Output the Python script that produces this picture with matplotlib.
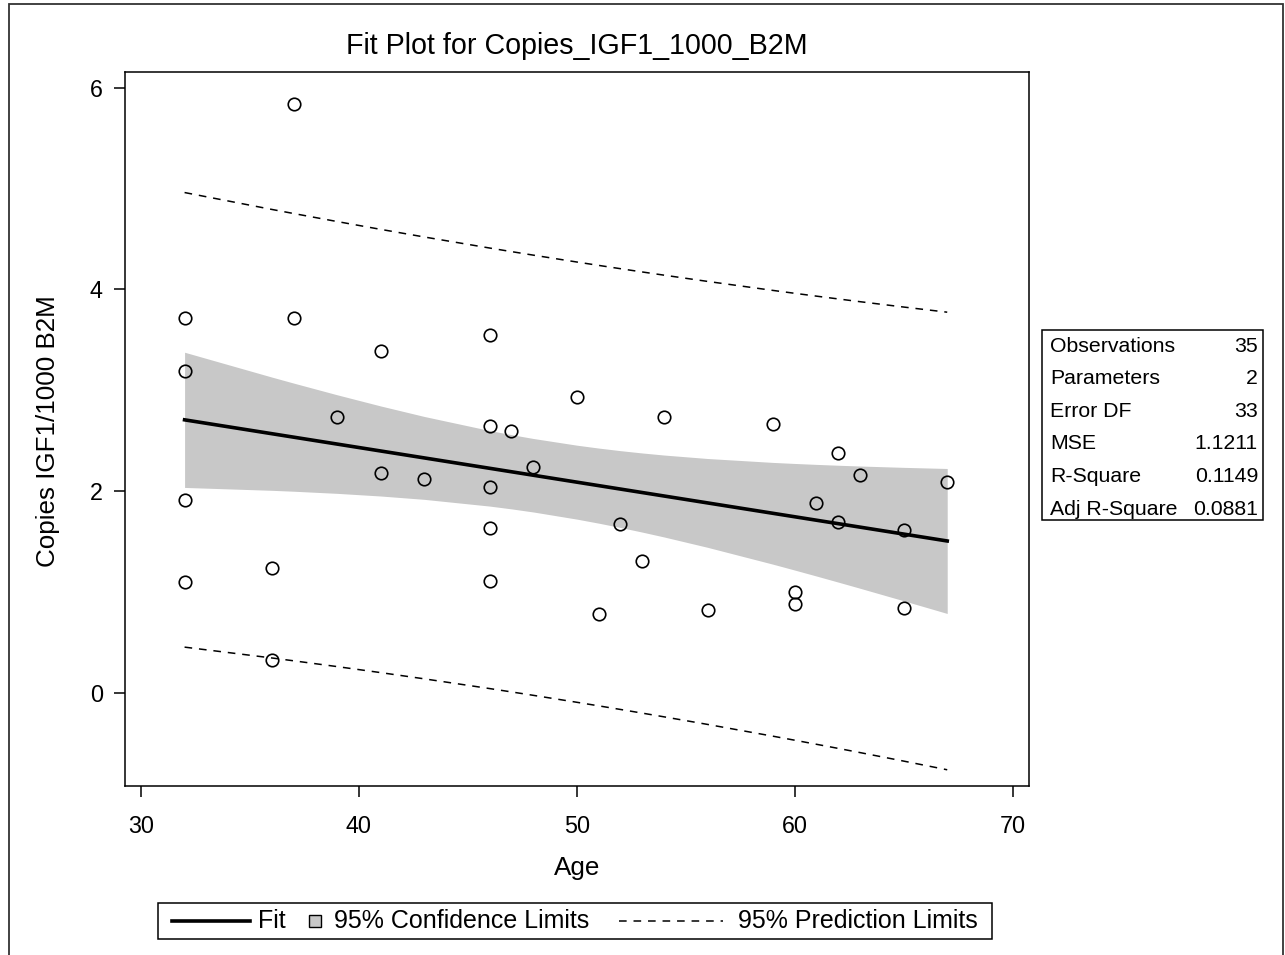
import numpy as np
import matplotlib.pyplot as plt
from matplotlib.lines import Line2D
from matplotlib.patches import Rectangle
from matplotlib.offsetbox import AnchoredOffsetbox, HPacker, TextArea, DrawingArea

plt.rcParams['font.family'] = ['Liberation Sans', 'DejaVu Sans']

# --- dati ---
age = [32, 32, 32, 32, 36, 36, 37, 37, 39, 41, 41, 43, 46, 46, 46, 46, 46, 47,
       48, 50, 51, 52, 53, 54, 56, 59, 60, 60, 61, 62, 62, 63, 65, 65, 67]
copies = [3.72, 3.19, 1.91, 1.10, 1.24, 0.32, 5.84, 3.72, 2.73, 3.39, 2.18, 2.12,
          3.55, 2.64, 2.04, 1.63, 1.11, 2.60, 2.24, 2.93, 0.78, 1.67, 1.31, 2.73,
          0.82, 2.66, 0.995, 0.88, 1.88, 2.38, 1.69, 2.16, 1.61, 0.84, 2.09]

stat_names = ["Observations", "Parameters", "Error DF", "MSE", "R-Square", "Adj R-Square"]
stat_values = ["35", "2", "33", "1.1211", "0.1149", "0.0881"]

# --- regressione lineare (fit, limiti di confidenza e previsione) ---
x = np.array(age, dtype=float)
y = np.array(copies)
n = len(x)
b1, b0 = np.polyfit(x, y, 1)
resid = y - (b0 + b1 * x)
mse = np.sum(resid ** 2) / (n - 2)
t975 = 2.0345  # t(0.975, 33)
xs = np.unique(x)
fit = b0 + b1 * xs
sxx = np.sum((x - x.mean()) ** 2)
se_mean = np.sqrt(mse * (1 / n + (xs - x.mean()) ** 2 / sxx))
se_pred = np.sqrt(mse * (1 + 1 / n + (xs - x.mean()) ** 2 / sxx))

W, H = 1285, 955
fig = plt.figure(figsize=(W / 100, H / 100), dpi=100)
ax = fig.add_axes([125 / W, 1 - 786 / H, (1029 - 125) / W, (786 - 72) / H])

ax.fill_between(xs, fit - t975 * se_mean, fit + t975 * se_mean,
                color='#c8c8c8', linewidth=0, zorder=1)
ax.plot(xs, fit, color='black', lw=2.6, zorder=3)
ax.plot(xs, fit + t975 * se_pred, color='black', lw=1.1, dashes=(5, 4.5), zorder=2)
ax.plot(xs, fit - t975 * se_pred, color='black', lw=1.1, dashes=(5, 4.5), zorder=2)
ax.plot(age, copies, 'o', mfc='none', mec='black', ms=9, mew=1.2, zorder=4)

ax.set_xlim(29.266, 70.753)
ax.set_ylim(-0.925, 6.155)
ax.set_xticks([30, 40, 50, 60, 70])
ax.set_yticks([0, 2, 4, 6])
ax.tick_params(axis='both', direction='out', length=8, width=1.1, labelsize=16.8)
ax.tick_params(axis='x', pad=13)
ax.tick_params(axis='y', pad=8)
for s in ax.spines.values():
    s.set_linewidth(1.1)

ax.set_title("Fit Plot for Copies_IGF1_1000_B2M", fontsize=20.6, pad=13)
fig.text(577 / W, 1 - 868 / H, "Age", fontsize=18.7, ha='center', va='center')
fig.text(48 / W, 1 - 431 / H, "Copies IGF1/1000 B2M", fontsize=18.7,
         rotation=90, ha='center', va='center')

# riquadro statistiche
fig.patches.append(Rectangle((1042 / W, 1 - 520 / H), (1263 - 1042) / W, (520 - 330) / H,
                             transform=fig.transFigure, fill=False, ec='black', lw=1.1))
for i, (nm, val) in enumerate(zip(stat_names, stat_values)):
    yy = 1 - (346 + i * 32.6) / H
    fig.text(1050 / W, yy, nm, fontsize=15.3, ha='left', va='center')
    fig.text(1258 / W, yy, val, fontsize=15.3, ha='right', va='center')

# --- legenda costruita a mano (larghezze dei simboli diverse) ---
pt = 0.72  # pixel -> punti a 100 dpi
hh = 14 * pt


def spacer(w):
    return DrawingArea(w * pt, hh)


fit_da = DrawingArea(78 * pt, hh)
fit_da.add_artist(Line2D([0, 78 * pt], [hh / 2, hh / 2], color='black', lw=2.6))
sq_da = DrawingArea(14 * pt, hh)
sq_da.add_artist(Rectangle((0.5, 0.5), 14 * pt - 1, hh - 1, fc='#c8c8c8', ec='black', lw=1.0))
dash_da = DrawingArea(104 * pt, hh)
dash_da.add_artist(Line2D([0, 104 * pt], [hh / 2, hh / 2], color='black', lw=1.1, dashes=(5, 4.5)))

tprops = dict(fontsize=18)
row = HPacker(children=[spacer(8), fit_da, spacer(8), TextArea("Fit", textprops=tprops), spacer(22),
                        sq_da, spacer(12), TextArea("95% Confidence Limits", textprops=tprops),
                        spacer(30), dash_da, spacer(15),
                        TextArea("95% Prediction Limits", textprops=tprops), spacer(8)],
              align='center', pad=0, sep=0)
leg = AnchoredOffsetbox(loc='center', child=row, pad=0.25, borderpad=0, frameon=True,
                        prop=dict(size=18), bbox_to_anchor=(575 / W, 1 - 921 / H),
                        bbox_transform=fig.transFigure)
leg.patch.set_boxstyle("square", pad=0)
leg.patch.set_edgecolor('black')
leg.patch.set_linewidth(1.1)
fig.add_artist(leg)

# cornice esterna
fig.patches.append(Rectangle((9 / W, -0.01), (1283 - 9) / W, 1.01 - 4 / H,
                             transform=fig.transFigure, fill=False, ec='#333333', lw=1.3))

fig.savefig("out.png", dpi=100)
